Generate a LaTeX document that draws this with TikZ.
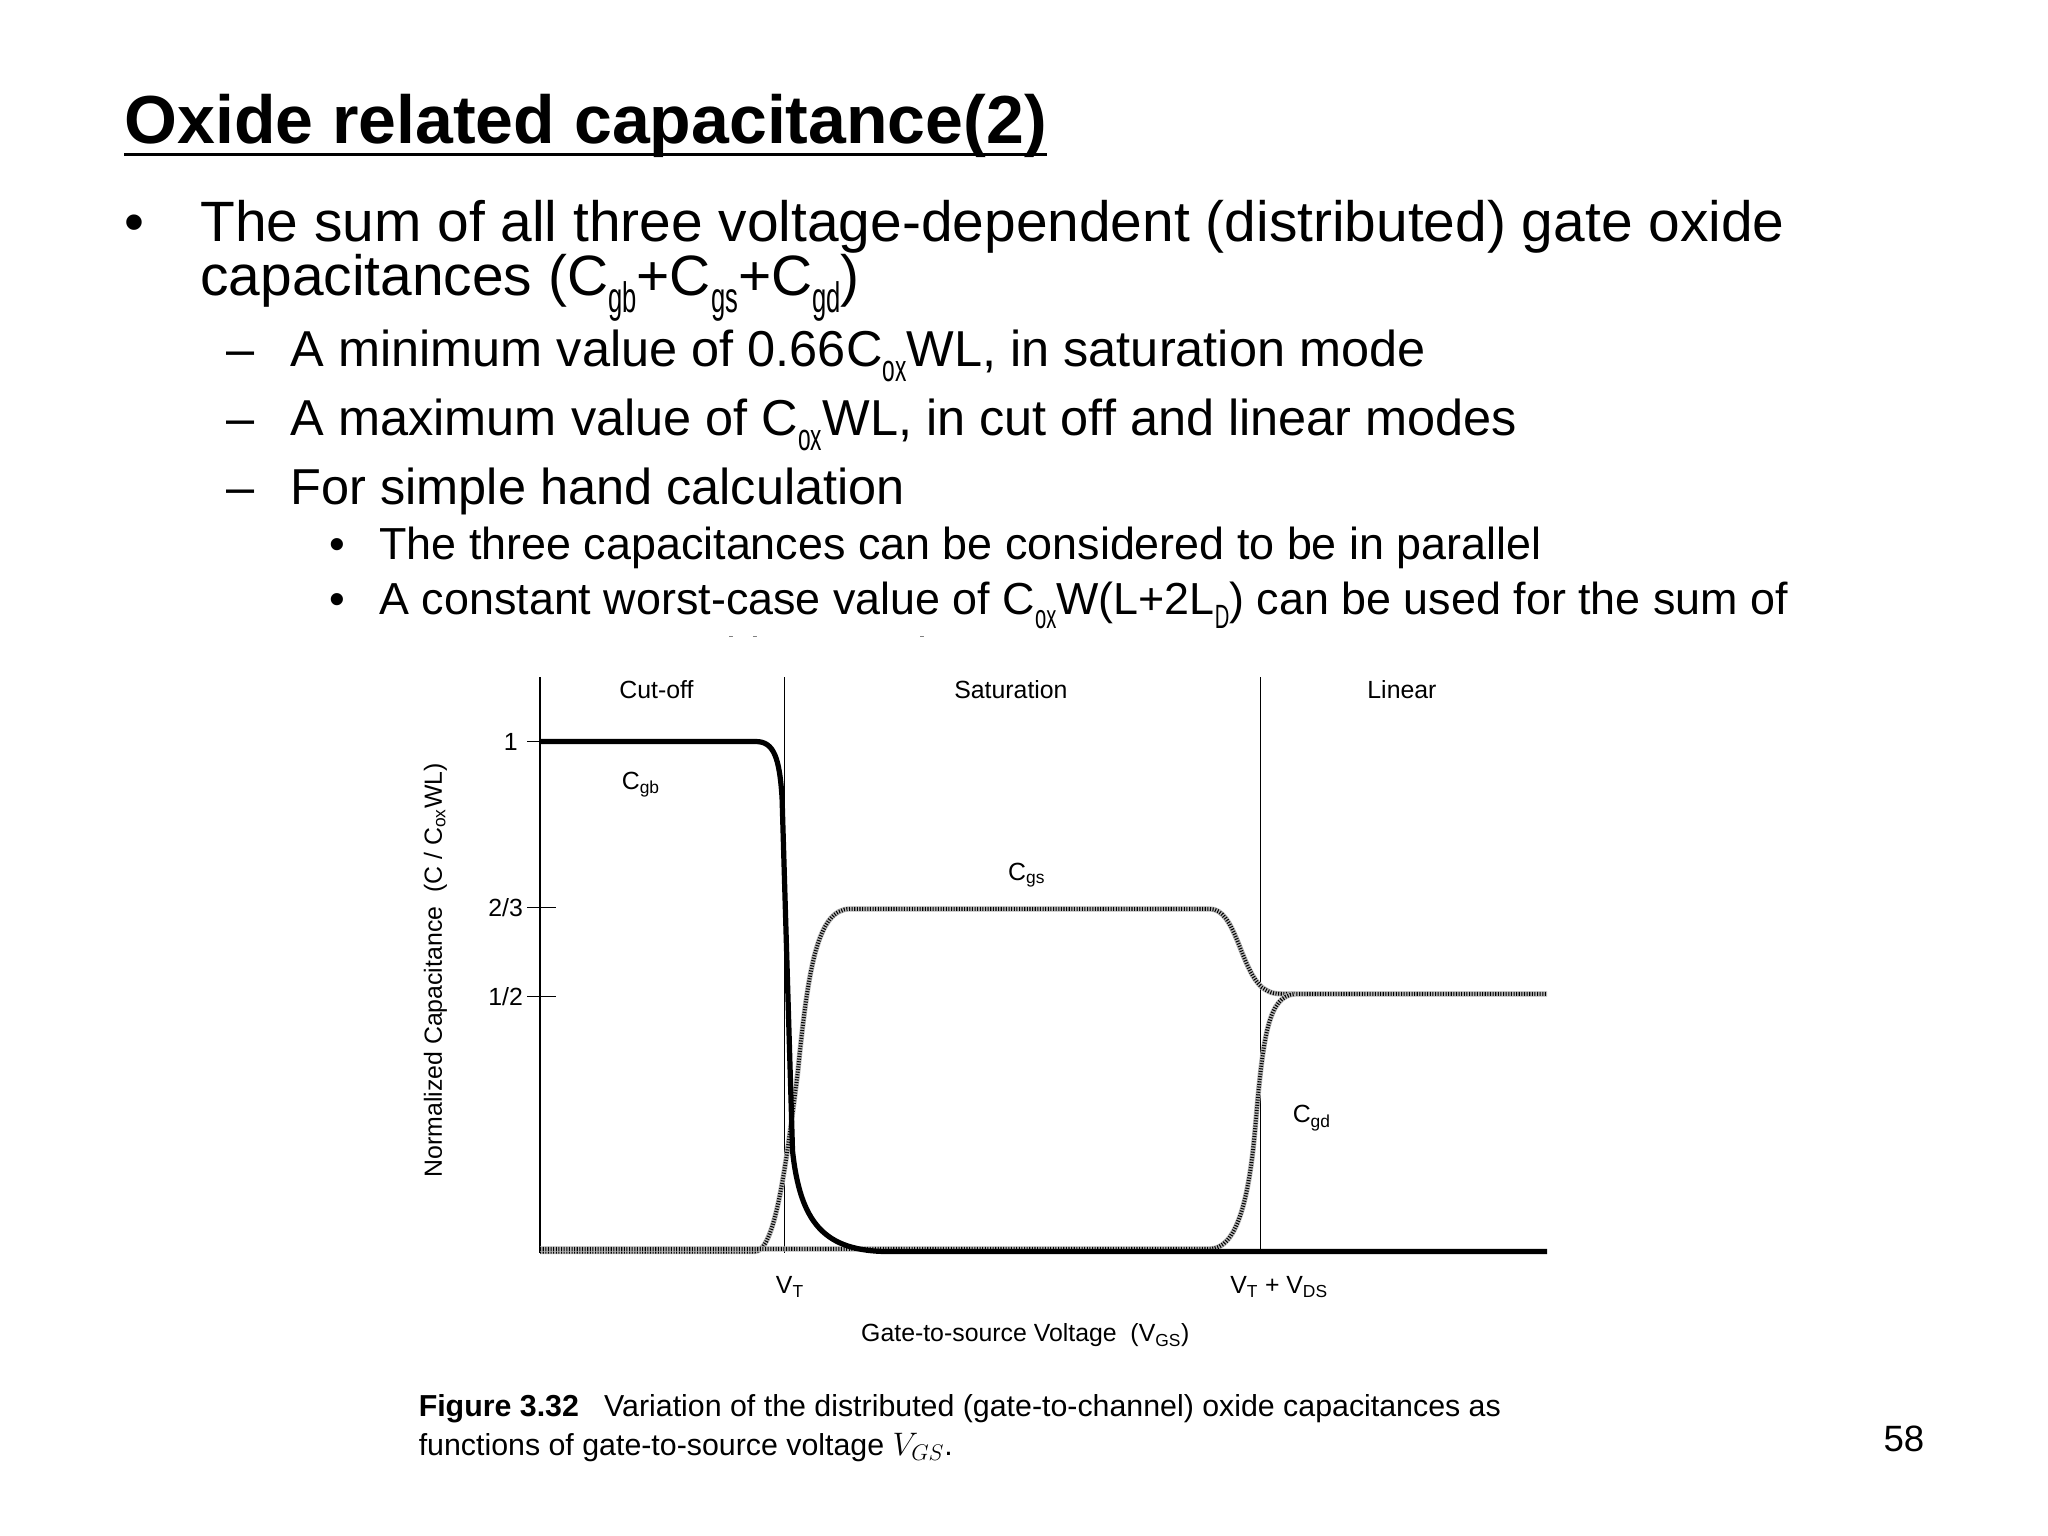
\documentclass[tikz,border=0pt]{standalone}
\usepackage{fontspec}
\setmainfont{Liberation Sans}
\newcommand{\sbx}[1]{\raisebox{-0.3em}{\scalebox{0.45}[0.75]{#1}}}
\begin{document}
\begin{tikzpicture}[x=1pt,y=-1pt,
  t1/.style={anchor=base west,inner sep=0pt,font=\fontsize{43.5}{46}\selectfont},
  t2/.style={anchor=base west,inner sep=0pt,font=\fontsize{38.6}{40}\selectfont},
  t3/.style={anchor=base west,inner sep=0pt,font=\fontsize{34.3}{36}\selectfont},
  fl/.style={inner sep=0pt,font=\fontsize{19}{21}\selectfont},
  hatch/.style={line width=4pt,draw=gray!55},
  hatchtop/.style={line width=3pt,draw=black,dash pattern=on 0.8pt off 1.2pt}]
\useasboundingbox[fill=white] (0,0) rectangle (1566,1174.5);
% title
\node[anchor=base west,inner sep=0pt,font=\fontsize{52}{54}\selectfont\bfseries] (title) at (95,110) {Oxide related capacitance(2)};
\draw[line width=2.5pt] ([yshift=-8pt]title.base west) -- ([yshift=-8pt]title.base east);
\node[t1] (b1) at (95,185) {•};
\node[t1] (l1) at (153,185) {The sum of all three voltage-dependent (distributed) gate oxide};
\node[t1] (l2) at (153,226) {capacitances (C\sbx{gb}+C\sbx{gs}+C\sbx{gd})};
\node[t2] (d1) at (173,280) {–};
\node[t2] (l3) at (222,280) {A minimum value of 0.66C\sbx{ox}WL, in saturation mode};
\node[t2] (d2) at (173,333) {–};
\node[t2] (l4) at (222,333) {A maximum value of C\sbx{ox}WL, in cut off and linear modes};
\node[t2] (d3) at (173,386) {–};
\node[t2] (l5) at (222,386) {For simple hand calculation};
\node[t3] (b2) at (252,428) {•};
\node[t3] (l6) at (290,428) {The three capacitances can be considered to be in parallel};
\node[t3] (b3) at (252,470) {•};
\node[t3] (l7) at (290,470) {A constant worst-case value of C\sbx{ox}W(L+2L\sbx{D}) can be used for the sum of};
\node[t3] (l8) at (290,512) {MOSFET gate oxide capacitances};
\fill[white] (0,487) rectangle (1566,1174.5);
% axes
\draw[line width=1pt] (413,518) -- (413,958);
\draw[line width=0.7pt] (600,518) -- (600,958);
\draw[line width=0.7pt] (964,518) -- (964,958);
\draw[line width=1pt] (403,567) -- (413,567);
\draw[line width=1pt] (403,694) -- (425,694);
\draw[line width=1pt] (403,762) -- (425,762);
\node[fl,anchor=east] (y1) at (396,567) {1};
\node[fl,anchor=east] (y23) at (400,694) {2/3};
\node[fl,anchor=east] (y12) at (400,762) {1/2};
\node[fl] (r1) at (502,527) {Cut-off};
\node[fl] (r2) at (773,527) {Saturation};
\node[fl] (r3) at (1072,527) {Linear};
% curves
\def\cgs{(413,957) -- (577,957) .. controls (592,957) and (600,900) .. (610,820) .. controls (618,740) and (625,695) .. (650,695) -- (925,695) .. controls (945,695) and (948,740) .. (965,755) .. controls (972,760) and (975,760) .. (985,760) -- (1183,760)}
\def\cgd{(413,955) -- (925,955) .. controls (945,955) and (955,920) .. (960,860) .. controls (966,790) and (970,762) .. (990,760)}
\draw[hatch] \cgs; \draw[hatchtop] \cgs;
\draw[hatch] \cgd; \draw[hatchtop] \cgd;
\draw[line width=4pt] (413,567) -- (578,567) .. controls (592,567) and (596,580) .. (598,610) -- (606,880) .. controls (612,935) and (630,957) .. (680,957) -- (1183,957);
\node[fl] (cgb) at (490,600) {C\textsubscript{gb}};
\node[fl] (cgs) at (785,669) {C\textsubscript{gs}};
\node[fl] (cgd) at (1003,855) {C\textsubscript{gd}};
\node[fl] (vt) at (604,984) {V\textsubscript{T}};
\node[fl] (vtd) at (978,984) {V\textsubscript{T} + V\textsubscript{DS}};
\node[fl] (xl) at (784,1021) {Gate-to-source Voltage\ \ (V\textsubscript{GS})};
\node[fl,rotate=90] (yl) at (333,742) {Normalized Capacitance\ \ (C / C\textsubscript{ox}WL)};
% caption
\node[anchor=base west,inner sep=0pt,font=\fontsize{23.2}{24}\selectfont] (cap1) at (320,1083) {\textbf{Figure 3.32}\ \ \ Variation of the distributed (gate-to-channel) oxide capacitances as};
\node[anchor=base west,inner sep=0pt,font=\fontsize{23.2}{24}\selectfont] (cap2) at (320,1113) {functions of gate-to-source voltage $V_{GS}$.};
\node[anchor=base west,inner sep=0pt,font=\fontsize{28}{30}\selectfont] (pg) at (1440,1110) {58};
\end{tikzpicture}
\end{document}
